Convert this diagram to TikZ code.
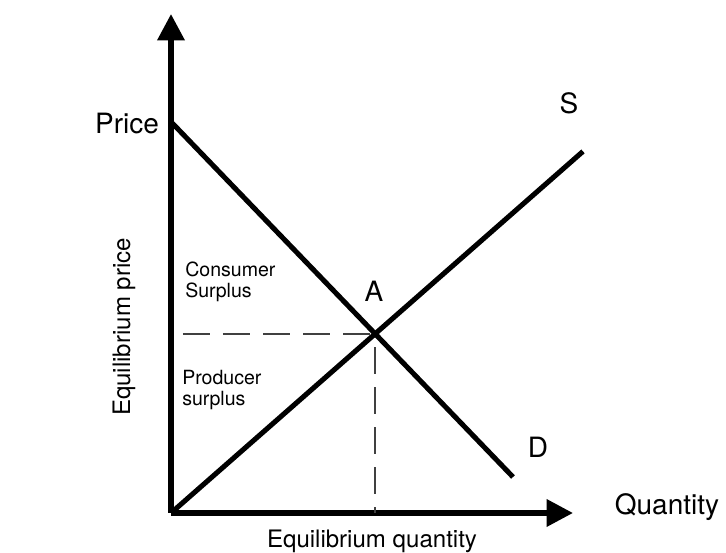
\documentclass[tikz,border=0pt]{standalone}
\usepackage{fontspec}
\setmainfont{TeX Gyre Heros}
\usepackage{tikz}
\usetikzlibrary{arrows.meta}
\tikzset{
  axis/.style={line width=3.9pt,-{Triangle[length=6.6mm,width=6.6mm]}},
  curve/.style={line width=3.6pt},
  guide/.style={line width=2.1pt,black!75,dash pattern=on 6.7mm off 3.3mm},
  big/.style={font=\fontsize{19.9}{24}\selectfont,inner sep=0pt},
  mid/.style={font=\fontsize{17.1}{20}\selectfont,inner sep=0pt},
  small/.style={font=\fontsize{13.9}{15}\selectfont,inner sep=0pt,align=left},
}
\begin{document}
\begin{tikzpicture}
  \useasboundingbox (-4.275,-1.0) rectangle (13.875,12.825);
  % axes
  \coordinate (O) at (0,0);
  \coordinate (ytop) at (0,12.475);
  \coordinate (xend) at (10.05,0);
  \draw[axis] (O) -- (ytop);
  \draw[axis] (O) -- (xend);
  % demand and supply
  \coordinate (A) at (5.1,4.475);
  \coordinate (dtop) at (0,9.78);
  \coordinate (dend) at (8.55,0.9);
  \coordinate (send) at (10.3,9.04);
  \draw[curve] (dtop) -- (dend);
  \draw[curve] (O) -- (send);
  % equilibrium guides
  \coordinate (pleft) at (0.3,4.475);
  \coordinate (qfoot) at (5.1,0);
  \draw[guide] (pleft) -- (A);
  \draw[guide,dash phase=6.7mm] (A) -- (qfoot);
  % labels
  \node[big] (price) at (-1.1,9.725) {Price};
  \node[big] (qty) at (12.4,0.15) {Quantity};
  \node[big] (slbl) at (9.95,10.25) {S};
  \node[big] (dlbl) at (9.175,1.65) {D};
  \node[big] (albl) at (5.075,5.55) {A};
  \node[mid] (eqq) at (5.025,-0.7) {Equilibrium quantity};
  \node[mid,rotate=90] (eqp) at (-1.175,4.65) {Equilibrium price};
  \node[small,anchor=north west] (cs) at (0.35,6.275) {Consumer\\Surplus};
  \node[small,anchor=north west] (ps) at (0.275,3.575) {Producer\\surplus};
\end{tikzpicture}
\end{document}
